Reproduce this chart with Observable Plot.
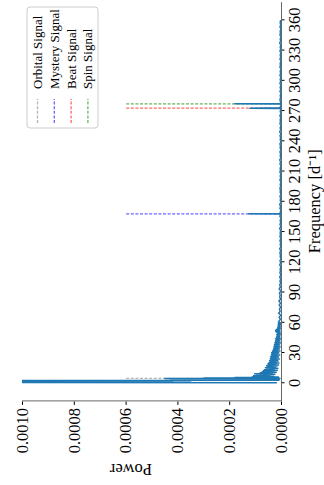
<!DOCTYPE html>
<html><head><meta charset="utf-8">
<script src="https://cdn.jsdelivr.net/npm/d3@7"></script>
<script src="https://cdn.jsdelivr.net/npm/@observablehq/plot@0.6"></script>
<style>
html,body{margin:0;padding:0;background:#fff;overflow:hidden;width:324px;height:485px;}
#rot{position:absolute;left:0;top:0;width:485px;height:324px;transform-origin:0 0;transform:translate(0,485px) rotate(-90deg);}
</style></head><body><div id="rot"></div>
<script>
// ---- data ----
const freqTicks = [0, 30, 60, 90, 120, 150, 180, 210, 240, 270, 300, 330, 360];
const powerTicks = [0, 0.0002, 0.0004, 0.0006, 0.0008, 0.0010];

const signalNames = ["Orbital Signal", "Mystery Signal", "Beat Signal", "Spin Signal"];
const signalFreqs = [4.3, 167.6, 272.4, 276.7];
const signalColors = ["gray", "blue", "red", "green"];
const signalTop = 0.0006;

// power values below are in units of 1e-6
const lowFreq  = [0.0, 0.25, 0.5, 0.75, 1.0, 1.25, 1.5, 1.75, 2.0, 2.2, 2.45, 2.7, 2.95, 3.2, 3.45, 3.7, 3.95, 4.15, 4.3, 4.5, 4.7, 4.9, 5.1, 5.3, 5.5, 5.75];
const lowPower = [20, 1500, 350, 2600, 420, 3200, 500, 2100, 460, 1300, 10, 410, 15, 400, 8, 430, 12, 440, 450, 10, 300, 15, 180, 10, 115, 12];

const noiseBStart = 6, noiseBStep = 0.5;
const noiseBPower = [
  112,30,108,45,95,25,104,35,82,20,
  74,30,70,16,66,28,58,14,62,24,
  55,18,57,12,50,22,52,10,48,20,
  44,13,46,16,41,8,43,18,40,11,
  42,14,37,7,39,16,36,10,38,12,
  34,6,33,14,31,8,30,11,28,5,
  29,10,26,7,27,10,24,4,25,9,
  23,6,22,8,21,3,22,7,19,6,
  18,8,17,4,18,6,16,5,19,7,
  22,6,23,8,18,4,15,6,14,5,
  13,6,12,3,13,5,11,4,12
];

const noiseCStart = 61, noiseCStep = 2;
const noiseCPower = [
  10,4,9,3,11,5,8,3,9,4,10,3,7,5,8,2,9,4,7,3,
  6,3,7,2,6,4,5,2,7,3,6,2,5,4,6,3,7,2,5,3,6,2,6,4,5,3,7,2,6,3,5,2,6,4,5,2,6,3,7,2,5,3,6,2,5,4,6,3,5,2,
  6,3,5,2,6,4,5,2,6,3,7,2,5,3,6,2,5,4,6,2,5,3,6,2,7,3,5,2,6,4,5,3,6,2,5,3,6,2,5,4,6,3,5,2,6,3,5,2,6,3,
  5,2,6,3,5,2,6,4,5,2,6,3,5,2,6,3,5,2,7,3,5,2,6,4,5,2,6,3,5,4
];

const peakFreqs = [167.3, 167.6, 167.9, 272.1, 272.4, 272.7, 276.4, 276.7, 277.0];
const peakPower = [3, 127, 3, 3, 122, 3, 3, 180, 3];

// ---- build tables ----
const spectrum = [];
lowFreq.forEach((f, i) => spectrum.push({freq: f, power: lowPower[i] * 1e-6}));
noiseBPower.forEach((p, i) => spectrum.push({freq: noiseBStart + i * noiseBStep, power: p * 1e-6}));
noiseCPower.forEach((p, i) => spectrum.push({freq: noiseCStart + i * noiseCStep, power: p * 1e-6}));
peakFreqs.forEach((f, i) => spectrum.push({freq: f, power: peakPower[i] * 1e-6}));
spectrum.sort((a, b) => a.freq - b.freq);

const signals = signalNames.map((name, i) => ({name, freq: signalFreqs[i], color: signalColors[i]}));

const FONT = "'Liberation Serif', 'Times New Roman', serif";

const chart = Plot.plot({
  width: 485,
  height: 324,
  marginLeft: 83.6,
  marginRight: 2.2,
  marginTop: 22,
  marginBottom: 43,
  style: {fontFamily: FONT, fontSize: "16.5px", color: "black", background: "white"},
  x: {domain: [-18, 378], ticks: freqTicks, tickFormat: d => String(d), tickSize: 3.5, tickPadding: 3, label: null},
  y: {domain: [0, 0.001], ticks: powerTicks, tickFormat: d3.format(".4f"), tickSize: 3.5, tickPadding: 3.5, label: null},
  marks: [
    Plot.ruleX(signals, {x: "freq", y1: 0, y2: signalTop, stroke: "color", strokeOpacity: 0.6, strokeWidth: 1.3, strokeDasharray: "3,1.6"}),
    Plot.line(spectrum, {x: "freq", y: "power", stroke: "#1f77b4", strokeWidth: 1.5, clip: true}),
    Plot.ruleX([-18], {stroke: "#666", strokeWidth: 1}),
    Plot.ruleY([0], {stroke: "#666", strokeWidth: 1}),
    Plot.text(["Power"], {frameAnchor: "left", rotate: -90, dx: -62.6, lineAnchor: "bottom", fontSize: 16.5, fill: "black"}),
    Plot.text(["Frequency [d\u207B\u00B9]"], {frameAnchor: "bottom", dy: 38.5, lineAnchor: "bottom", fontSize: 16.5, fill: "black"})
  ]
});

document.getElementById("rot").appendChild(chart);

// ---- legend (top-right of the unrotated axes) ----
const svg = d3.select(chart.tagName.toLowerCase() === "svg" ? chart : chart.querySelector("svg"));
const lg = svg.append("g")
  .style("font-family", FONT).style("font-size", "13px").attr("text-anchor", "start").style("text-anchor", "start");
lg.append("rect").attr("x", 357).attr("y", 27).attr("width", 121).attr("height", 71)
  .attr("rx", 3).attr("fill", "white").attr("fill-opacity", 0.85).attr("stroke", "#ccc");
signals.forEach((s, i) => {
  const cy = 37.5 + i * 16.8;
  lg.append("line").attr("x1", 362).attr("x2", 386).attr("y1", cy).attr("y2", cy)
    .attr("stroke", s.color).attr("stroke-opacity", 0.6).attr("stroke-width", 1.3).attr("stroke-dasharray", "3,1.6");
  lg.append("text").attr("x", 396).attr("y", cy).attr("dy", "0.35em")
    .style("text-anchor", "start").style("font-family", FONT).style("font-size", "13px")
    .attr("fill", "black").text(s.name);
});
</script>
</body></html>
